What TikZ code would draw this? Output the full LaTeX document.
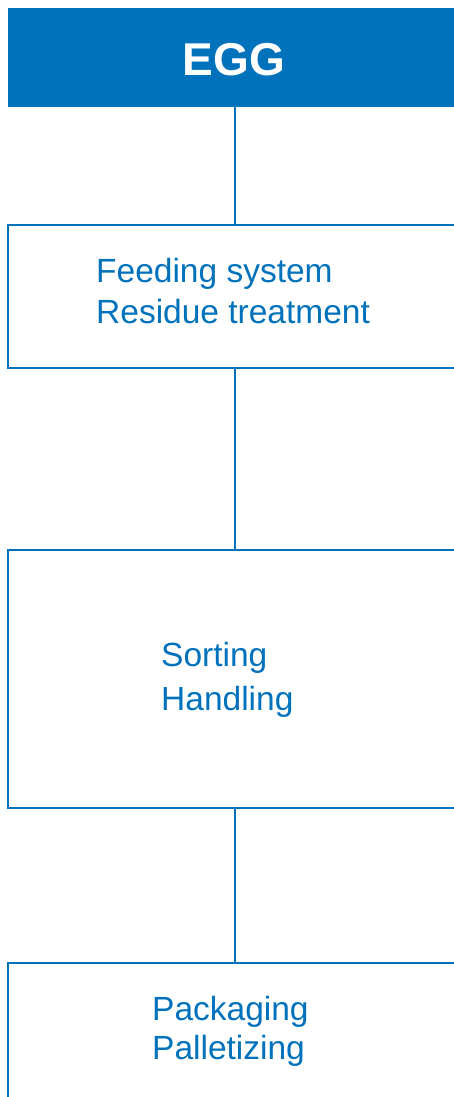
\documentclass[tikz,border=0pt]{standalone}
\usepackage{fontspec}
\setmainfont{Liberation Sans}
\definecolor{eggblue}{RGB}{0,114,188}

\begin{document}
\begin{tikzpicture}[x=1pt,y=-1pt,
  stage/.style={draw=eggblue,line width=1.5pt,minimum width=463pt,inner sep=0pt,anchor=north west},
  lbl/.style={text=eggblue,inner sep=0pt,anchor=base west,align=left}]
\useasboundingbox (0,0) rectangle (454,1097);
\node[fill=eggblue,minimum width=462pt,minimum height=99pt,inner sep=0pt,anchor=north west] (hdr) at (8,8) {};
\node[text=white,inner sep=0pt,anchor=base,font=\bfseries\fontsize{46}{50}\selectfont] (egg) at (234,76) {EGG};
\node[stage,minimum height=143pt] (feed) at (7,224) {};
\node[stage,minimum height=258pt] (sort) at (7,549) {};
\node[stage,minimum height=160pt] (pack) at (7,962) {};
\node[lbl,font=\fontsize{33.5}{41}\selectfont] (feedtxt) at (96,323) {Feeding system\\Residue treatment};
\node[lbl,font=\fontsize{33.5}{44}\selectfont] (sorttxt) at (161,710) {Sorting\\Handling};
\node[lbl,font=\fontsize{33.5}{39}\selectfont] (packtxt) at (152,1059) {Packaging\\Palletizing};
\coordinate (spine) at (235,0);
\draw[eggblue,line width=1.5pt] (hdr.south -| spine) -- (feed.north -| spine);
\draw[eggblue,line width=1.5pt] (feed.south -| spine) -- (sort.north -| spine);
\draw[eggblue,line width=1.5pt] (sort.south -| spine) -- (pack.north -| spine);
\end{tikzpicture}
\end{document}
